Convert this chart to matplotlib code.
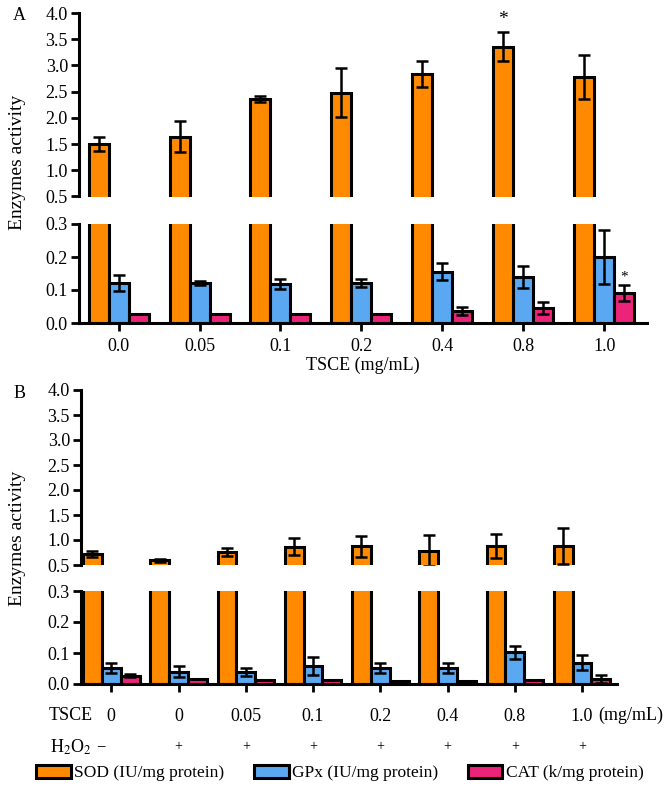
import matplotlib
matplotlib.use('Agg')
import matplotlib.pyplot as plt
import numpy as np

plt.rcParams['font.family'] = ['Liberation Serif', 'DejaVu Serif']
plt.rcParams['mathtext.fontset'] = 'stix'

# panel A: TSCE alone
tsce_a = ['0.0', '0.05', '0.1', '0.2', '0.4', '0.8', '1.0']
sod_a = [1.50, 1.64, 2.36, 2.48, 2.84, 3.36, 2.78]
sod_a_err = [0.13, 0.30, 0.05, 0.47, 0.25, 0.28, 0.42]
gpx_a = [0.121, 0.121, 0.118, 0.121, 0.155, 0.139, 0.200]
gpx_a_err = [0.024, 0.006, 0.015, 0.011, 0.026, 0.033, 0.082]
cat_a = [0.028, 0.026, 0.026, 0.027, 0.037, 0.045, 0.090]
cat_a_err = [0.0, 0.0, 0.0, 0.0, 0.012, 0.018, 0.024]

# panel B: TSCE + H2O2
tsce_b = ['0', '0', '0.05', '0.1', '0.2', '0.4', '0.8', '1.0']
h2o2_b = ['\u2212', '+', '+', '+', '+', '+', '+', '+']
sod_b = [0.72, 0.60, 0.77, 0.87, 0.88, 0.79, 0.88, 0.88]
sod_b_err = [0.06, 0.03, 0.08, 0.17, 0.21, 0.31, 0.24, 0.36]
gpx_b = [0.051, 0.040, 0.038, 0.058, 0.051, 0.051, 0.102, 0.069]
gpx_b_err = [0.016, 0.017, 0.013, 0.028, 0.017, 0.017, 0.021, 0.023]
cat_b = [0.027, 0.017, 0.013, 0.014, 0.011, 0.011, 0.013, 0.017]
cat_b_err = [0.005, 0.0, 0.0, 0.0, 0.0, 0.0, 0.0, 0.013]

series_names = ['SOD (IU/mg protein)', 'GPx (IU/mg protein)', 'CAT (k/mg protein)']
colors = ['#FF8A00', '#5AA8F2', '#EC2479']

W, H = 671, 791
fig = plt.figure(figsize=(W / 100, H / 100), dpi=100)


def px_box(x0, x1, ytop, ybot):
    return [x0 / W, 1 - ybot / H, (x1 - x0) / W, (ybot - ytop) / H]


def panel(ax_top, ax_bot, sod, sod_err, gpx, gpx_err, cat, cat_err, bw, xlim):
    x = np.arange(len(sod))
    ekw = dict(ecolor='black', elinewidth=1.8, capsize=4, capthick=1.8)
    handles = []
    for ax in (ax_top, ax_bot):
        handles = []
        for k, (vals, errs) in enumerate([(sod, sod_err), (gpx, gpx_err), (cat, cat_err)]):
            b = ax.bar(x + (k - 1) * bw, vals, bw, color=colors[k], edgecolor='black',
                       linewidth=2.2, yerr=errs, error_kw=ekw)
            handles.append(b)
        ax.set_xlim(*xlim)
        for s in ['top', 'right']:
            ax.spines[s].set_visible(False)
        ax.spines['left'].set_linewidth(2.2)
        ax.spines['bottom'].set_linewidth(2.2)
        ax.tick_params(axis='y', length=6, width=2, labelsize=13, pad=2)
        ax.tick_params(axis='x', length=6, width=2, labelsize=13)
    ax_top.spines['bottom'].set_visible(False)
    ax_top.set_xticks([])
    ax_top.set_ylim(0.5, 4.0)
    ax_top.set_yticks(np.arange(0.5, 4.01, 0.5))
    ax_top.set_yticklabels(['%.1f' % v for v in np.arange(0.5, 4.01, 0.5)])
    ax_bot.set_ylim(0, 0.3)
    ax_bot.set_yticks([0, 0.1, 0.2, 0.3])
    ax_bot.set_yticklabels(['0.0', '0.1', '0.2', '0.3'])
    ax_bot.set_xticks(x)
    return handles


# ---- panel A
axA1 = fig.add_axes(px_box(79, 647, 13, 196.5))
axA2 = fig.add_axes(px_box(79, 647, 224, 323))
bwA = 0.247
panel(axA1, axA2, sod_a, sod_a_err, gpx_a, gpx_a_err, cat_a, cat_a_err, bwA, (-0.49, 6.53))
axA2.set_xticklabels(tsce_a)
axA2.tick_params(axis='x', pad=5)
axA2.set_xlabel('TSCE (mg/mL)', fontsize=13, labelpad=1)
axA1.text(5 - bwA, sod_a[5] + sod_a_err[5] + 0.08, '*', ha='center', va='bottom', fontsize=14)
axA2.text(6 + bwA, cat_a[6] + cat_a_err[6] + 0.005, '*', ha='center', va='bottom', fontsize=11)
fig.text(19 / W, 1 - 16 / H, 'A', ha='center', va='center', fontsize=13)
fig.text(18 / W, 1 - 162 / H, 'Enzymes activity', rotation=90, ha='center', va='center', fontsize=14)

# ---- panel B
axB1 = fig.add_axes(px_box(81, 617, 390, 565))
axB2 = fig.add_axes(px_box(81, 617, 591, 684))
bwB = 0.28
handles = panel(axB1, axB2, sod_b, sod_b_err, gpx_b, gpx_b_err, cat_b, cat_b_err, bwB, (-0.45, 7.52))
axB2.set_xticklabels(tsce_b)
axB2.tick_params(axis='x', pad=11)
axB2.annotate('(mg/mL)', xy=(len(tsce_b) - 1, 0), xycoords=('data', 'axes fraction'),
              xytext=(16, -31), textcoords='offset pixels', ha='left', va='center', fontsize=13)
for i, sign in enumerate(h2o2_b):
    axB2.annotate(sign, xy=(i, 0), xycoords=('data', 'axes fraction'),
                  xytext=(-10 if sign != '+' else 0, -63), textcoords='offset pixels',
                  ha='center', va='center', fontsize=10 if sign == '+' else 12)
fig.text(49 / W, 1 - 715 / H, 'TSCE', ha='left', va='center', fontsize=13)
fig.text(50 / W, 1 - 747 / H, r'H$_2$O$_2$', ha='left', va='center', fontsize=13)
fig.text(20 / W, 1 - 393 / H, 'B', ha='center', va='center', fontsize=13)
fig.text(18 / W, 1 - 538 / H, 'Enzymes activity', rotation=90, ha='center', va='center', fontsize=14)

fig.legend(handles, series_names, loc='center left', bbox_to_anchor=(36 / W, 1 - 773 / H),
           ncol=3, frameon=False, fontsize=12.5, handlelength=2.0, handleheight=0.8,
           handletextpad=0.2, columnspacing=1.7, borderaxespad=0, borderpad=0)

fig.savefig('out.png', dpi=100)
